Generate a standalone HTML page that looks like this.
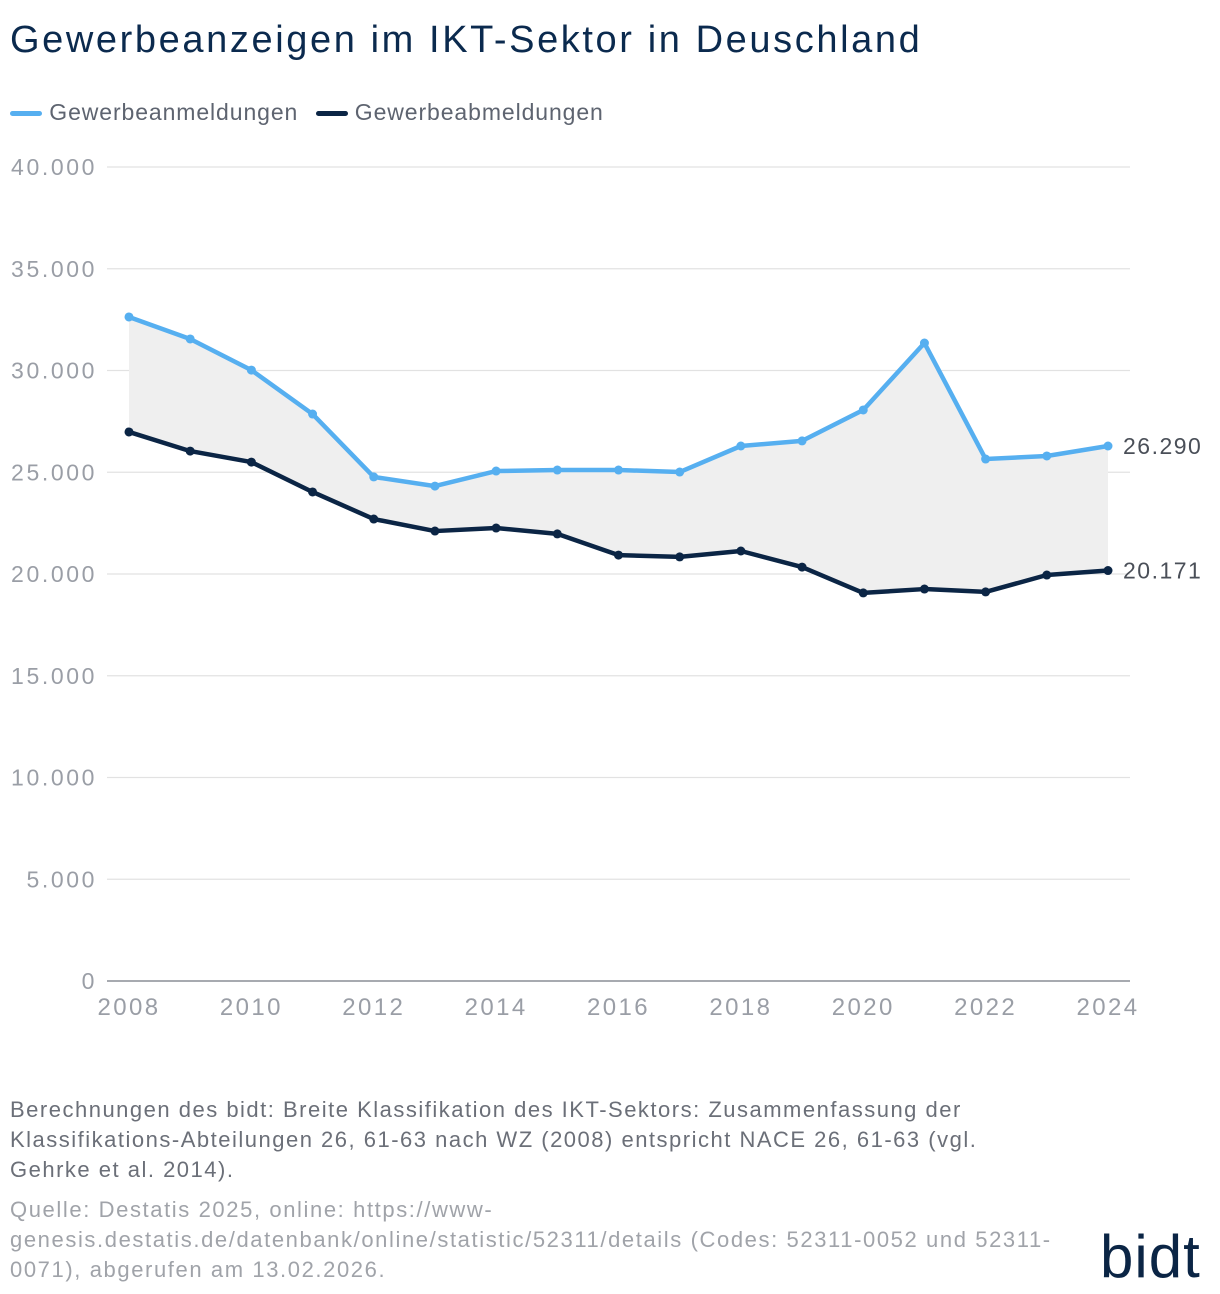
<!DOCTYPE html>
<html><head><meta charset="utf-8"><style>
body{margin:0;background:#fff;width:1220px;height:1294px;overflow:hidden;font-family:"Liberation Sans",sans-serif;position:relative}
.t{position:absolute;white-space:nowrap}
</style></head><body>
<div class="t" style="left:10px;top:19px;font-size:38px;letter-spacing:2.6px;color:#0b2a4e">Gewerbeanzeigen im IKT-Sektor in Deuschland</div>
<div style="position:absolute;left:10px;top:99px;font-size:23px;letter-spacing:0.9px;color:#5e6470;white-space:nowrap">
<span><span style="display:inline-block;width:32px;height:5px;background:#56aff0;border-radius:3px;vertical-align:middle"></span> Gewerbeanmeldungen</span>
<span style="margin-left:10px"><span style="display:inline-block;width:32px;height:5px;background:#0b2545;border-radius:3px;vertical-align:middle"></span> Gewerbeabmeldungen</span>
</div>
<svg id="chart" width="1220" height="1060" style="position:absolute;left:0;top:0"></svg>
<div class="t" style="left:10px;top:1095px;font-size:22px;letter-spacing:1.5px;line-height:30px;color:#6b6f78">Berechnungen des bidt: Breite Klassifikation des IKT-Sektors: Zusammenfassung der<br>Klassifikations-Abteilungen 26, 61-63 nach WZ (2008) entspricht NACE 26, 61-63 (vgl.<br>Gehrke et al. 2014).</div>
<div class="t" style="left:10px;top:1195px;font-size:22px;letter-spacing:1.6px;line-height:30px;color:#a0a3a9">Quelle: Destatis 2025, online: https://www-<br>genesis.destatis.de/datenbank/online/statistic/52311/details (Codes: 52311-0052 und 52311-<br>0071), abgerufen am 13.02.2026.</div>
<div class="t" style="left:1100px;top:1222px;font-size:60px;letter-spacing:1px;color:#0b2545">bidt</div>
<script>
const years=[2008,2009,2010,2011,2012,2013,2014,2015,2016,2017,2018,2019,2020,2021,2022,2023,2024];
const anmeldungen=[32630,31550,30020,27860,24770,24320,25060,25110,25110,25010,26290,26540,28060,31350,25650,25800,26290];
const abmeldungen=[26980,26040,25500,24030,22700,22110,22260,21970,20930,20840,21130,20340,19070,19260,19120,19950,20171];
const yTicks=[0,5000,10000,15000,20000,25000,30000,35000,40000];
const xTicks=[2008,2010,2012,2014,2016,2018,2020,2022,2024];
const NS="http://www.w3.org/2000/svg",svg=document.getElementById('chart');
const X=v=>129+(v-2008)*(1108-129)/16, Y=v=>981-v*(981-167)/40000;
function el(t,a){const e=document.createElementNS(NS,t);for(const k in a)e.setAttribute(k,a[k]);svg.appendChild(e);return e;}
const fmt=v=>v.toString().replace(/\B(?=(\d{3})+(?!\d))/g,'.');
yTicks.forEach(v=>{const g=el('line',{x1:107,x2:1130,y1:Y(v),y2:Y(v),stroke:v?'#e2e2e2':'#8a8e96','stroke-width':v?1.3:1.5});

const t=el('text',{x:97,y:Y(v)+8,'text-anchor':'end','font-size':23,'letter-spacing':2.6,fill:'#9a9ea6'});t.textContent=fmt(v);
});
xTicks.forEach(v=>{const t=el('text',{x:X(v),y:1015,'text-anchor':'middle','font-size':24,'letter-spacing':2.4,fill:'#9a9ea6'});t.textContent=v;
});
let d=years.map((y,i)=>(i?'L':'M')+X(y)+','+Y(anmeldungen[i])).join('')+years.slice().reverse().map((y,j)=>'L'+X(y)+','+Y(abmeldungen[years.length-1-j])).join('')+'Z';
const area=el('path',{d,fill:'#efefef'});
[[anmeldungen,'#56aff0','anmeldungen'],[abmeldungen,'#0b2545','abmeldungen']].forEach(([s,c,n])=>{
const p=el('polyline',{points:years.map((y,i)=>X(y)+','+Y(s[i])).join(' '),fill:'none',stroke:c,'stroke-width':4.5,'stroke-linejoin':'round'});

years.forEach((y,i)=>{const m=el('circle',{cx:X(y),cy:Y(s[i]),r:4.5,fill:c});});
const t=el('text',{x:1123,y:Y(s[s.length-1])+8,'font-size':23,'letter-spacing':1.5,fill:'#4a4f58'});t.textContent=fmt(s[s.length-1]);
});
</script>
</body></html>
